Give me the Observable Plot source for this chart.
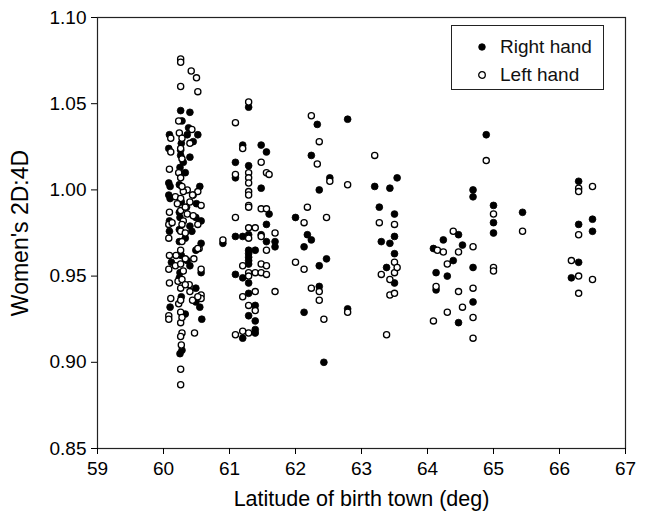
<!DOCTYPE html>
<html>
<head>
<meta charset="utf-8">
<script src="https://cdn.jsdelivr.net/npm/d3@7"></script>
<script src="https://cdn.jsdelivr.net/npm/@observablehq/plot@0.6"></script>
<style>
  html, body { margin: 0; padding: 0; background: #fff; }
  #wrap { position: relative; width: 652px; height: 515px; font-family: "Liberation Sans", Arial, Helvetica, sans-serif; }
  #wrap svg { display: block; font-family: "Liberation Sans", Arial, Helvetica, sans-serif; }
  g[aria-label="x-axis label"] text { font-size: 21.5px; }
  g[aria-label="y-axis label"] text { font-size: 23px; }
  g[aria-label="x-axis tick label"] text, g[aria-label="y-axis tick label"] text { font-size: 19px; }
  #legend { position: absolute; left: 451px; top: 25px; width: 153px; height: 65px; border: 1px solid #222; background: #fff; box-sizing: border-box; }
  .row { position: absolute; left: 0; height: 24px; display: flex; align-items: center; font-size: 19px; color: #111; }
  .row svg { margin-left: 25px; margin-right: 13px; }
</style>
</head>
<body>
<div id="wrap"></div>
<script>
// Right hand (filled) — latitude of birth town and 2D:4D ratio
const rightLat = [
  60.26,60.40,60.28,60.38,60.09,60.52,60.36,60.08,60.26,60.26,60.40,60.30,60.33,60.08,60.10,60.24,60.55,60.08,60.10,60.50,
  60.24,60.49,60.09,60.57,60.40,60.24,60.43,60.09,60.33,60.24,60.57,60.49,60.36,60.40,60.57,60.24,60.49,60.49,60.55,60.10,
  60.33,60.58,60.28,60.25,60.27,60.25,60.27,60.25,60.27,60.25,60.27,60.35,60.45,60.45,60.12,
  60.90,61.09,61.09,61.09,61.09,61.20,61.20,61.20,61.20,
  61.29,61.29,61.29,61.29,61.29,61.29,61.29,61.29,61.29,61.29,61.29,
  61.39,61.39,61.39,61.39,61.39,61.48,61.48,61.48,61.56,61.56,61.56,61.60,61.69,61.69,
  62.00,62.13,62.13,62.18,62.24,62.24,62.33,62.36,62.36,62.36,62.43,62.47,62.52,62.79,62.79,
  63.20,63.27,63.30,63.38,63.43,63.43,63.50,63.50,63.50,63.50,63.54,
  64.09,64.13,64.13,64.24,64.30,64.39,64.47,64.47,64.53,64.69,64.69,64.69,64.69,
  64.89,65.00,65.00,65.00,65.44,
  66.18,66.29,66.29,66.29,66.50,66.50
];
const rightRatio = [
  1.046,1.045,1.040,1.036,1.032,1.032,1.032,1.024,1.023,1.020,1.019,1.016,1.010,1.004,1.002,1.003,1.002,0.997,0.995,0.992,
  0.987,0.984,0.982,0.982,0.979,0.977,0.976,0.976,0.972,0.970,0.969,0.965,0.959,0.956,0.952,0.949,0.943,0.935,0.932,0.932,
  0.928,0.925,0.907,0.905,1.027,1.013,0.993,0.984,0.962,0.952,0.938,0.990,1.028,0.997,0.958,
  0.969,1.016,1.007,0.973,0.951,1.026,0.973,0.949,0.914,
  1.048,1.014,0.974,0.965,0.963,0.961,0.959,0.957,0.946,0.940,0.927,
  0.965,0.933,0.924,0.919,0.917,1.026,1.001,0.974,1.022,0.980,0.970,0.986,0.970,0.967,
  0.984,0.967,0.929,0.974,1.020,0.971,1.038,1.000,0.956,0.944,0.900,0.960,1.007,1.041,0.931,
  1.002,0.990,0.970,0.955,1.001,0.969,0.986,0.973,0.963,0.946,1.007,
  0.966,0.952,0.942,0.971,0.950,0.959,0.974,0.923,0.968,1.000,0.996,0.955,0.935,
  1.032,0.991,0.981,0.975,0.987,
  0.949,1.005,0.980,0.958,0.983,0.976
];

// Left hand (open)
const leftLat = [
  60.26,60.26,60.42,60.50,60.26,60.52,60.23,60.43,60.11,60.24,60.40,60.11,60.09,60.23,60.26,60.36,60.30,60.52,60.18,60.26,
  60.44,60.40,60.21,60.57,60.09,60.36,60.45,60.08,60.30,60.13,60.08,60.54,60.26,60.19,60.09,60.46,60.08,60.18,60.30,60.57,
  60.22,60.09,60.39,60.26,60.40,60.11,60.44,60.57,60.57,60.23,60.26,60.08,60.08,60.26,60.47,60.28,60.27,60.26,60.26,
  60.28,60.26,60.28,60.28,60.26,60.28,60.26,60.28,60.26,60.28,60.26,60.28,60.26,60.33,60.33,60.33,60.33,60.52,60.52,60.52,
  60.90,61.09,61.09,61.09,61.09,61.20,61.20,61.20,61.20,
  61.29,61.29,61.29,61.29,61.29,61.29,61.29,61.29,61.29,61.29,61.29,61.29,61.29,61.29,
  61.39,61.39,61.39,61.39,61.48,61.48,61.48,61.48,61.48,61.56,61.56,61.56,61.56,61.56,61.60,61.69,61.69,
  62.00,62.13,62.13,62.18,62.24,62.24,62.33,62.36,62.36,62.36,62.43,62.47,62.52,62.79,62.79,
  63.20,63.27,63.30,63.38,63.43,63.43,63.50,63.50,63.50,63.50,63.54,
  64.09,64.13,64.15,64.24,64.30,64.30,64.39,64.47,64.47,64.53,64.69,64.69,64.69,64.69,
  64.89,65.00,65.00,65.00,65.44,
  66.18,66.29,66.29,66.29,66.29,66.29,66.50,66.50
];
const leftRatio = [
  1.076,1.074,1.069,1.065,1.060,1.057,1.040,1.035,1.030,1.033,1.027,1.022,1.012,1.010,1.007,1.000,0.999,0.999,0.996,0.995,
  0.997,0.993,0.992,0.991,0.987,0.986,0.985,0.980,0.982,0.981,0.972,0.966,0.965,0.962,0.962,0.960,0.954,0.956,0.953,0.954,
  0.947,0.946,0.945,0.943,0.941,0.937,0.936,0.939,0.937,0.934,0.929,0.927,0.925,0.923,0.917,0.917,0.910,0.896,0.887,
  1.030,1.024,1.018,1.002,0.988,0.980,0.976,0.970,0.957,0.948,0.936,0.926,0.915,0.990,0.975,0.960,0.945,0.980,0.966,0.938,
  0.971,1.039,1.009,0.984,0.916,1.024,0.956,0.938,0.918,
  1.051,1.010,1.007,1.004,0.999,0.997,0.991,0.990,0.978,0.972,0.952,0.950,0.933,0.917,
  0.978,0.952,0.941,0.930,1.016,0.989,0.973,0.957,0.952,1.010,0.989,0.965,0.956,0.951,1.009,0.975,0.941,
  0.958,0.981,0.954,0.990,1.043,0.943,1.015,1.028,0.941,0.936,0.925,0.984,1.005,1.003,0.929,
  1.020,0.981,0.951,0.916,0.948,0.939,0.980,0.958,0.952,0.940,0.955,
  0.924,0.944,0.965,0.964,0.957,0.929,0.976,0.964,0.941,0.932,0.967,0.943,0.926,0.914,
  1.017,0.986,0.955,0.953,0.976,
  0.959,1.001,0.999,0.974,0.950,0.940,1.002,0.948
];

const xTicks = [59, 60, 61, 62, 63, 64, 65, 66, 67];
const yTicks = [0.85, 0.90, 0.95, 1.00, 1.05, 1.10];
const seriesNames = ["Right hand", "Left hand"];

const right = rightLat.map((x, i) => ({lat: x, ratio: rightRatio[i]}));
const left = leftLat.map((x, i) => ({lat: x, ratio: leftRatio[i]}));

const chart = Plot.plot({
  width: 652,
  height: 515,
  marginLeft: 97,
  marginRight: 27,
  marginTop: 17,
  marginBottom: 67,
  x: {domain: [59, 67]},
  y: {domain: [0.85, 1.10]},
  marks: [
    Plot.frame({stroke: "#222", strokeWidth: 1.2}),
    Plot.axisX({ticks: xTicks, tickSize: 6, tickPadding: 7, tickFormat: d3.format("d"),
      label: "Latitude of birth town (deg)", labelAnchor: "center", labelOffset: 57, labelArrow: "none"}),
    Plot.axisY({ticks: yTicks, tickSize: 6, tickPadding: 5, tickFormat: d3.format(".2f"),
      label: "Women's 2D:4D", labelAnchor: "center", labelOffset: 86, labelArrow: "none"}),
    Plot.dot(right, {x: "lat", y: "ratio", r: 3.4, fill: "#000", stroke: "#000", strokeWidth: 0.8}),
    Plot.dot(left, {x: "lat", y: "ratio", r: 3.1, fill: "#fff", stroke: "#000", strokeWidth: 1.3})
  ]
});

const wrap = document.getElementById("wrap");
wrap.appendChild(chart);

// legend
const legend = document.createElement("div");
legend.id = "legend";
seriesNames.forEach((name, i) => {
  const row = document.createElement("div");
  row.className = "row";
  row.style.top = (i === 0 ? 9 : 37) + "px";
  const filled = i === 0;
  row.innerHTML = `<svg width="10" height="10"><circle cx="5" cy="5" r="3.3" fill="${filled ? "#000" : "#fff"}" stroke="#000" stroke-width="${filled ? 0.8 : 1.3}"></circle></svg><span>${name}</span>`;
  legend.appendChild(row);
});
wrap.appendChild(legend);
</script>
</body>
</html>
